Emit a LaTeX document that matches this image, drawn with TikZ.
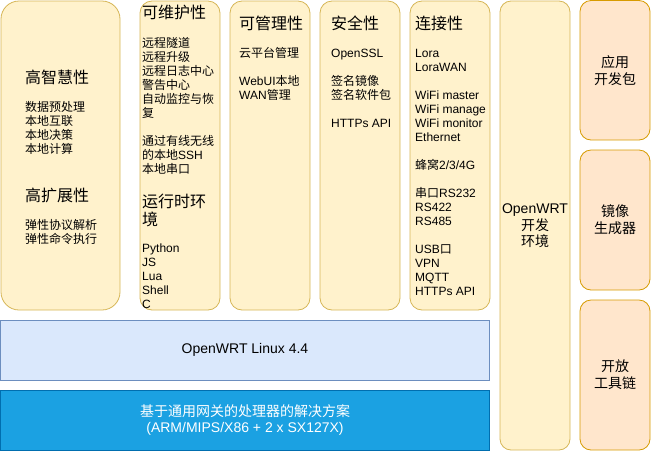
\documentclass[tikz,border=0pt]{standalone}
\usepackage{fontspec}
\setmainfont{Liberation Sans}
\newfontfamily\zhfont{Noto Sans CJK SC}
\newcommand\zh[1]{{\zhfont #1}}
\definecolor{yfill}{HTML}{FFF2CC}
\definecolor{ystroke}{HTML}{D6B656}
\definecolor{ofill}{HTML}{FFE6CC}
\definecolor{ostroke}{HTML}{D79B00}
\definecolor{lbfill}{HTML}{DAE8FC}
\definecolor{lbstroke}{HTML}{6C8EBF}
\definecolor{bfill}{HTML}{1BA1E2}
\definecolor{bstroke}{HTML}{006EAF}
\begin{document}
\begin{tikzpicture}[x=1pt,y=-1pt,
  ybox/.style={draw=ystroke, fill=yfill, line width=0.8pt, inner sep=0pt, rounded corners=#1},
  obox/.style={draw=ostroke, fill=ofill, line width=0.8pt, inner sep=0pt, rounded corners=11pt,
    minimum width=70pt, align=center, font=\fontsize{14}{16.8}\selectfont},
  flat/.style={line width=0.8pt, inner sep=0pt, minimum width=489pt, minimum height=60pt,
    align=center, font=\fontsize{14}{16.8}\selectfont},
  txt/.style={anchor=base west, inner sep=0pt, font=\fontsize{12}{14}\selectfont},
  head/.style={anchor=base west, inner sep=0pt, font=\fontsize{16}{19}\selectfont}]
\useasboundingbox (0,0) rectangle (651,451);

% columns
\node[ybox=18pt, minimum width=119pt, minimum height=309pt] (b1) at (60.5,155.5) {};
\node[ybox=12pt, minimum width=80pt, minimum height=309pt] (b2) at (180,155.5) {};
\node[ybox=12pt, minimum width=80pt, minimum height=309pt] (b3) at (270,155.5) {};
\node[ybox=12pt, minimum width=80pt, minimum height=309pt] (b4) at (360,155.5) {};
\node[ybox=12pt, minimum width=80pt, minimum height=309pt] (b5) at (450,155.5) {};
\node[ybox=11pt, minimum width=70pt, minimum height=449pt] (b6) at (535,225.5) {};
\node[align=center, inner sep=0pt, font=\fontsize{14}{16.5}\selectfont] (b6t) at (535,226)
  {OpenWRT\\\zh{开发}\\\zh{环境}};

% right column
\node[obox, minimum height=139.5pt] (sdk) at (615,70.25) {\zh{应用}\\\zh{开发包}};
\node[obox, minimum height=140pt] (img) at (615,220) {\zh{镜像}\\\zh{生成器}};
\node[obox, minimum height=150pt] (tool) at (615,375) {\zh{开放}\\\zh{工具链}};

% bottom layers
\node[flat, draw=lbstroke, fill=lbfill] (linux) at (245,350) {OpenWRT Linux 4.4};
\node[flat, draw=bstroke, fill=bfill, text=white] (hw) at (245,420)
  {\zh{基于通用网关的处理器的解决方案}\\(ARM/MIPS/X86 + 2 x SX127X)};

% column 1
\node[head] (h1a) at (25,83) {\zh{高智慧性}};
\foreach \y/\t [count=\i] in {111.5/{数据预处理},125.5/{本地互联},139.5/{本地决策},153.5/{本地计算}}
  \node[txt] (c1a\i) at (25,\y) {\zh{\t}};
\node[head] (h1b) at (25,201) {\zh{高扩展性}};
\foreach \y/\t [count=\i] in {229.5/{弹性协议解析},243.5/{弹性命令执行}}
  \node[txt] (c1b\i) at (25,\y) {\zh{\t}};

% column 2
\node[head] (h2a) at (142,18) {\zh{可维护性}};
\foreach \y/\t [count=\i] in {47.5/{\zh{远程隧道}},61.5/{\zh{远程升级}},75.5/{\zh{远程日志中心}},
  89.5/{\zh{警告中心}},103.5/{\zh{自动监控与恢}},117.5/{\zh{复}},145.5/{\zh{通过有线无线}},
  159.5/{\zh{的本地}SSH},173.5/{\zh{本地串口}}}
  \node[txt] (c2a\i) at (142,\y) {\t};
\node[head] (h2b) at (142,207) {\zh{运行时环}};
\node[head] (h2c) at (142,225) {\zh{境}};
\foreach \y/\t [count=\i] in {252/Python,266/JS,280/Lua,294/Shell,308/C}
  \node[txt] (c2b\i) at (142,\y) {\t};

% column 3
\node[head] (h3) at (239,29.5) {\zh{可管理性}};
\foreach \y/\t [count=\i] in {57.5/{\zh{云平台管理}},85.5/{WebUI\zh{本地}},99.5/{WAN\zh{管理}}}
  \node[txt] (c3\i) at (239,\y) {\t};

% column 4
\node[head] (h4) at (331,29.5) {\zh{安全性}};
\foreach \y/\t [count=\i] in {57.5/{OpenSSL},85.5/{\zh{签名镜像}},99.5/{\zh{签名软件包}},127.5/{HTTPs API}}
  \node[txt] (c4\i) at (331,\y) {\t};

% column 5
\node[head] (h5) at (415,29.5) {\zh{连接性}};
\foreach \y/\t [count=\i] in {57.5/{Lora},71.5/{LoraWAN},99.5/{WiFi master},113.5/{WiFi manage},
  127.5/{WiFi monitor},141.5/{Ethernet},169.5/{\zh{蜂窝}2/3/4G},197.5/{\zh{串口}RS232},
  211.5/{RS422},225.5/{RS485},253.5/{USB\zh{口}},267.5/{VPN},281.5/{MQTT},295.5/{HTTPs API}}
  \node[txt] (c5\i) at (415,\y) {\t};
\end{tikzpicture}
\end{document}
